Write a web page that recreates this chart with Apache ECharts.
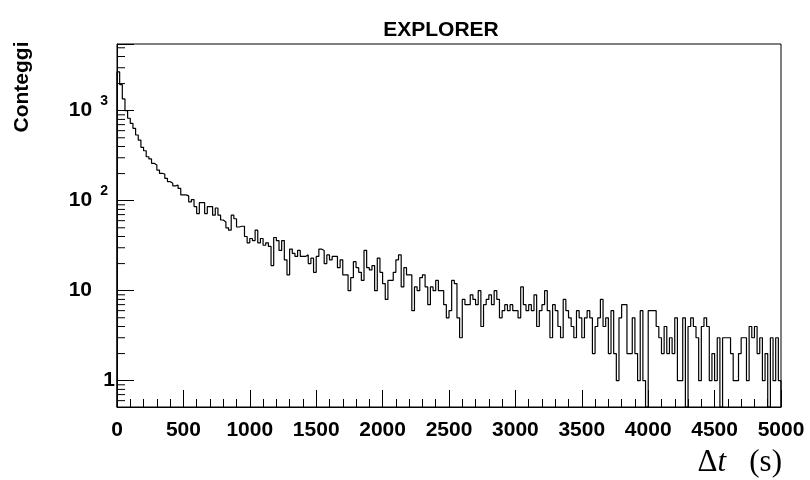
<!DOCTYPE html>
<html><head><meta charset="utf-8">
<script src="https://cdn.jsdelivr.net/npm/echarts@6/dist/echarts.min.js"></script>
<style>html,body{margin:0;padding:0;background:#fff}#c{width:810px;height:480px}</style>
</head><body><div id="c"></div>
<script>
const titleText = 'EXPLORER';
const yTitle = 'Conteggi';
const binWidth = 20; // s
const counts = [
  2700, 1950, 1350, 1000, 824, 724, 637, 537, 472, 392,
  359, 308, 291, 260, 249, 219, 201, 198, 177, 163,
  156, 146, 149, 137, 116, 116, 113, 97, 103, 86,
  72, 95, 95, 72, 86, 86, 69, 83, 69, 61,
  58, 50, 47, 69, 63, 51, 52, 52, 40, 34,
  38, 36, 47, 34, 38, 32, 34, 31, 19, 39,
  36, 28, 36, 22, 15, 29, 26, 24, 28, 24,
  24, 25, 20, 23, 16, 24, 29, 28, 20, 25,
  22, 24, 24, 18, 22, 15, 15, 10, 14, 21,
  18, 16, 13, 28, 18, 17, 19, 10, 23, 16,
  12, 8, 13, 13, 16, 22, 25, 11, 18, 15,
  15, 6, 11, 10, 14, 15, 11, 7, 11, 10,
  13, 10, 10, 7, 5, 6, 13, 12, 5, 3,
  8, 7, 7, 9, 8, 7, 10, 4, 7, 8,
  9, 7, 10, 8, 5, 6, 7, 6, 7, 6,
  6, 5, 11, 7, 6, 7, 6, 9, 4, 6,
  7, 10, 6, 3, 7, 6, 4, 3, 8, 6,
  5, 4, 3, 6, 5, 3, 5, 6, 5, 2,
  4, 5, 8, 4, 5, 2, 6, 2, 1, 5,
  7, 7, 2, 2, 5, 2, 1, 6, 1, 0,
  6, 6, 6, 4, 3, 2, 4, 2, 3, 2,
  5, 1, 1, 5, 0, 4, 5, 4, 3, 1,
  4, 5, 4, 1, 2, 1, 3, 0, 3, 3,
  3, 2, 1, 1, 2, 3, 3, 1, 4, 3,
  4, 2, 3, 1, 2, 0, 3, 1, 3, 1
];
const xMin = 0, xMax = 5000, xInterval = 500;
const yMin = 0.51, yMax = 5510;
const yMinorTicks = [0.6,0.7,0.8,0.9, 2,3,4,5,6,7,8,9, 20,30,40,50,60,70,80,90,
  200,300,400,500,600,700,800,900, 2000,3000,4000,5000];

// histogram outline as step line (zero bins drop to the frame bottom)
const stepData = [[0, yMin]];
counts.forEach((c, i) => stepData.push([i * binWidth, c > 0 ? c : yMin]));
stepData.push([counts.length * binWidth, counts[counts.length - 1] > 0 ? counts[counts.length - 1] : yMin]);
stepData.push([counts.length * binWidth, yMin]);

const chart = echarts.init(document.getElementById('c'), null, {renderer: 'canvas'});
const bold = 'Liberation Sans';
chart.setOption({
  animation: false,
  backgroundColor: '#fff',
  title: {
    text: titleText, left: 436, top: 15, textAlign: 'center',
    textStyle: {fontFamily: bold, fontWeight: 'bold', fontSize: 21, color: '#000'}
  },
  grid: {left: 117, right: 29, top: 44, bottom: 73, show: true, borderColor: '#000', borderWidth: 1, backgroundColor: 'transparent'},
  xAxis: {
    type: 'value', min: xMin, max: xMax, interval: xInterval,
    axisLine: {show: true, onZero: false, lineStyle: {color: '#000', width: 1}},
    axisTick: {show: true, inside: true, length: 17, lineStyle: {color: '#000', width: 1}},
    minorTick: {show: true, splitNumber: 5, length: 8, lineStyle: {color: '#000', width: 1}},
    splitLine: {show: false},
    axisLabel: {show: true, margin: 13, color: '#000', fontFamily: bold, fontWeight: 'bold', fontSize: 21,
      showMinLabel: true, showMaxLabel: true, formatter: v => String(v)}
  },
  yAxis: {
    type: 'log', logBase: 10, min: yMin, max: yMax,
    axisLine: {show: true, lineStyle: {color: '#000', width: 1}},
    axisTick: {show: true, inside: true, length: 17, lineStyle: {color: '#000', width: 1}},
    minorTick: {show: false},
    splitLine: {show: false},
    axisLabel: {
      show: true, margin: 2, color: '#000', showMinLabel: true, showMaxLabel: true,
      formatter: function (v) {
        const e = Math.log10(v);
        const r = Math.round(e);
        if (Math.abs(e - r) > 1e-6) return '';
        if (r === 0) return '{a|1}';
        if (r === 1) return '{b|10}';
        return '{c|10}{e|' + r + '}';
      },
      rich: {
        a: {fontFamily: bold, fontWeight: 'bold', fontSize: 21, color: '#000'},
        b: {fontFamily: bold, fontWeight: 'bold', fontSize: 21, color: '#000', padding: [0, 23, 0, 0]},
        c: {fontFamily: bold, fontWeight: 'bold', fontSize: 21, color: '#000', lineHeight: 22, verticalAlign: 'middle'},
        e: {fontFamily: bold, fontWeight: 'bold', fontSize: 14, color: '#000', lineHeight: 14, verticalAlign: 'middle', padding: [0, 7, 20, 8]}
      }
    }
  },
  graphic: [
    {type: 'text', x: 22, y: 87, rotation: Math.PI / 2,
     style: {text: yTitle, align: 'center', verticalAlign: 'middle', fill: '#000', font: 'bold 21px "Liberation Sans"'}},
    {type: 'text', x: 782, y: 463,
     style: {text: '{n|Δ}{i|t}{n|   (s)}', align: 'right', verticalAlign: 'middle',
       rich: {
         n: {fontFamily: 'Liberation Serif', fontSize: 31, fill: '#000'},
         i: {fontFamily: 'Liberation Serif', fontStyle: 'italic', fontSize: 31, fill: '#000'}
       }}}
  ],
  series: [
    {
      type: 'line', step: 'end', data: stepData, showSymbol: false, symbol: 'none',
      lineStyle: {color: '#000', width: 1.2}, clip: true, silent: true, z: 3
    },
    {
      type: 'custom', silent: true, clip: false, z: 4,
      data: yMinorTicks.map(v => [xMin, v]),
      renderItem: function (params, api) {
        const p = api.coord([api.value(0), api.value(1)]);
        return {type: 'line', shape: {x1: p[0], y1: p[1], x2: p[0] + 8, y2: p[1]}, style: {stroke: '#000', lineWidth: 1}};
      }
    }
  ]
});
</script></body></html>
